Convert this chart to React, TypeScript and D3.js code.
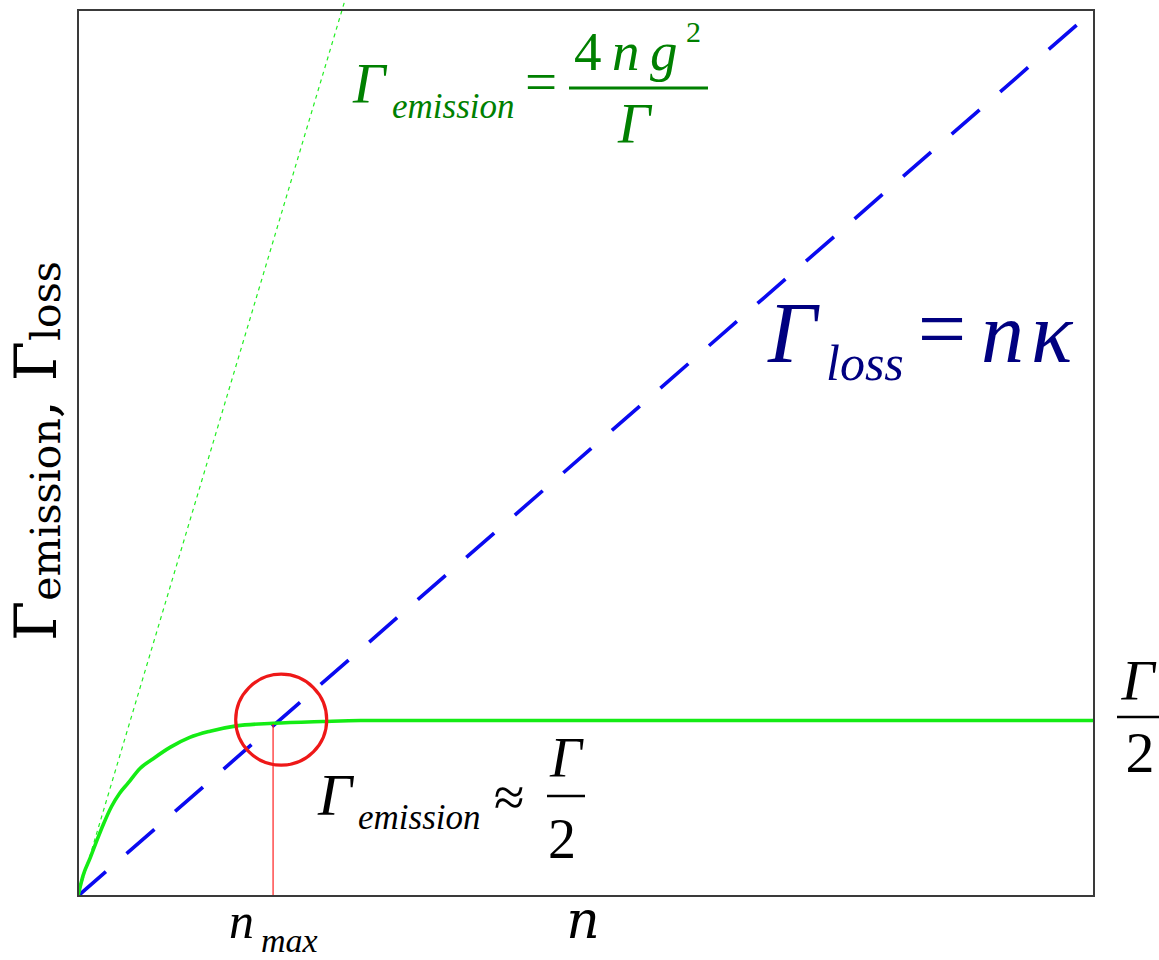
import React from "react";
import * as d3 from "d3";

const W = 1159;
const H = 960;

// photon-number axis and rate axis (arbitrary units, κ = 1)
const nDomain = [0, 10];
const rateDomain = [0, 10];

// emission rate: rises like 4ng²/Γ, then saturates at Γ/2
const emissionN = [0, 0.05, 0.12, 0.19, 0.25, 0.33, 0.41, 0.49, 0.61, 0.74, 0.91, 1.1, 1.3, 1.56, 1.92, 2.41, 2.78, 10];
const emissionRate = [0, 0.23, 0.43, 0.64, 0.81, 1.01, 1.16, 1.27, 1.44, 1.55, 1.68, 1.79, 1.86, 1.92, 1.95, 1.97, 1.98, 1.98];

// loss rate n·κ
const lossN = [0, 10];
const lossRate = [0, 10];

// small-n emission asymptote 4ng²/Γ
const linearN = [0, 2.63];
const linearRate = [0, 10.12];

// operating point
const nMax = 1.92;
const nMaxRate = 1.94;
const crossN = 2.0;
const crossRate = 1.99;

const SERIF = "'Liberation Serif', 'Times New Roman', Times, serif";
const DEJAVU = "'DejaVu Serif', serif";

type TProps = {
  x: number;
  y: number;
  size: number;
  fill: string;
  italic?: boolean;
  anchor?: "start" | "middle" | "end";
  family?: string;
  children: React.ReactNode;
};

function T({ x, y, size, fill, italic = true, anchor = "start", family = SERIF, children }: TProps) {
  return (
    <text
      x={x}
      y={y}
      textAnchor={anchor}
      style={{ fontFamily: family, fontStyle: italic ? "italic" : "normal", fontSize: `${size}px`, fill }}
    >
      {children}
    </text>
  );
}

export default function App() {
  const x = d3.scaleLinear().domain(nDomain).range([78, 1094]);
  const y = d3.scaleLinear().domain(rateDomain).range([896, 10]);

  const line = d3
    .line<[number, number]>()
    .x((d) => x(d[0]))
    .y((d) => y(d[1]));

  const emissionPath = d3
    .line<[number, number]>()
    .x((d) => x(d[0]))
    .y((d) => y(d[1]))
    .curve(d3.curveMonotoneX)(emissionN.map((n, i) => [n, emissionRate[i]]));
  const lossPath = line(lossN.map((n, i) => [n, lossRate[i]]));
  const linearPath = line(linearN.map((n, i) => [n, linearRate[i]]));

  const x0 = x(nDomain[0]);
  const x1 = x(nDomain[1]);
  const yTop = y(rateDomain[1]);
  const yBot = y(rateDomain[0]);

  const green = "#008000";
  const navy = "#000080";

  return (
    <svg
      width={W}
      height={H}
      viewBox={`0 0 ${W} ${H}`}
      style={{ position: "absolute", left: 0, top: 0, background: "#fff" }}
    >
      <defs>
        <clipPath id="plot-area">
          <rect x={x0} y={yTop} width={x1 - x0} height={yBot - yTop} />
        </clipPath>
      </defs>

      {/* small-n asymptote */}
      <path d={linearPath || ""} fill="none" stroke="#22ee22" strokeWidth={1.2} strokeDasharray="4,4" />

      <g clipPath="url(#plot-area)">
        {/* loss rate */}
        <path d={lossPath || ""} fill="none" stroke="#0a0af0" strokeWidth={3.6} strokeDasharray="37,27.4" />
        {/* emission rate */}
        <path d={emissionPath || ""} fill="none" stroke="#14ec14" strokeWidth={3.6} />
      </g>

      {/* n_max marker */}
      <line x1={x(nMax)} x2={x(nMax)} y1={yBot} y2={y(nMaxRate)} stroke="#ff2020" strokeWidth={1.2} />
      <circle cx={x(crossN)} cy={y(crossRate)} r={45.5} fill="none" stroke="#ee1818" strokeWidth={3.2} />

      {/* frame */}
      <rect x={x0} y={yTop} width={x1 - x0} height={yBot - yTop} fill="none" stroke="#3a3a3a" strokeWidth={2} />

      {/* Γ_emission = 4ng²/Γ */}
      <T x={353} y={103} size={57} fill={green}>Γ</T>
      <T x={392} y={118} size={35} fill={green}>emission</T>
      <T x={541} y={101} size={57} fill={green} italic={false} anchor="middle">=</T>
      <T x={574} y={70} size={55} fill={green} italic={false}>4</T>
      <T x={612} y={70} size={55} fill={green}>n</T>
      <T x={650} y={70} size={55} fill={green}>g</T>
      <T x={686} y={42} size={30} fill={green} italic={false}>2</T>
      <line x1={569} x2={708} y1={88} y2={88} stroke={green} strokeWidth={3} />
      <T x={618} y={143} size={57} fill={green}>Γ</T>

      {/* Γ_loss = nκ */}
      <T x={768} y={362} size={86} fill={navy}>Γ</T>
      <T x={826} y={380} size={50} fill={navy}>loss</T>
      <T x={942} y={358} size={86} fill={navy} italic={false} anchor="middle">=</T>
      <T x={981} y={362} size={86} fill={navy}>n</T>
      <T x={1031} y={362} size={86} fill={navy}>κ</T>

      {/* Γ_emission ≈ Γ/2 */}
      <T x={318} y={815} size={60} fill="#000">Γ</T>
      <T x={358} y={829} size={35} fill="#000">emission</T>
      <T x={509} y={816} size={56} fill="#000" italic={false} anchor="middle">≈</T>
      <T x={566} y={777} size={56} fill="#000" anchor="middle">Γ</T>
      <line x1={547} x2={585} y1={796} y2={796} stroke="#000" strokeWidth={2.5} />
      <T x={562} y={858} size={56} fill="#000" italic={false} anchor="middle">2</T>

      {/* Γ/2 level at the right edge */}
      <T x={1138} y={700} size={58} fill="#000" anchor="middle">Γ</T>
      <line x1={1117} x2={1159} y1={717} y2={717} stroke="#000" strokeWidth={2.5} />
      <T x={1140} y={772} size={58} fill="#000" italic={false} anchor="middle">2</T>

      {/* axis labels */}
      <T x={229} y={938} size={50} fill="#000">n</T>
      <T x={261} y={952} size={34} fill="#000">max</T>
      <T x={583} y={938} size={52} fill="#000" family={DEJAVU} anchor="middle">n</T>

      <text
        transform="translate(56,641) rotate(-90)"
        style={{ fontFamily: DEJAVU, fontStyle: "normal", fill: "#000" }}
      >
        <tspan style={{ fontSize: "58px" }}>Γ</tspan>
        <tspan style={{ fontSize: "41px" }} dy={4}>emission</tspan>
        <tspan style={{ fontSize: "58px" }} dy={-4}>, Γ</tspan>
        <tspan style={{ fontSize: "41px" }} dy={4}>loss</tspan>
      </text>
    </svg>
  );
}
